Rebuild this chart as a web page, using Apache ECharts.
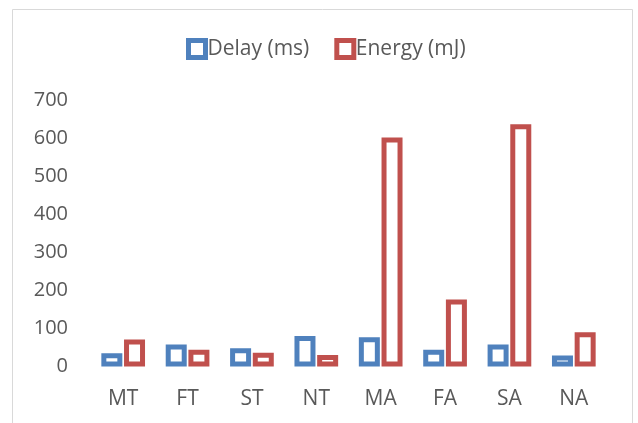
<!DOCTYPE html>
<html><head><meta charset="utf-8">
<script src="https://cdn.jsdelivr.net/npm/echarts@6/dist/echarts.min.js"></script>
<style>html,body{margin:0;padding:0;background:#fff}#c{width:638px;height:423px}</style>
</head><body><div id="c"></div>
<script>
const categories = ['MT','FT','ST','NT','MA','FA','SA','NA'];
const delayValues = [35, 58, 48, 80, 77, 44, 58, 29];
const energyValues = [71, 44, 36, 30, 602, 176, 637, 90];
const yTicks = {min: 0, max: 700, interval: 100};

const BLUE = '#4F81BD', RED = '#C0504D';
const FONT = 'Open Sans';
const chart = echarts.init(document.getElementById('c'), null, {renderer: 'canvas'});
chart.setOption({
  animation: false,
  backgroundColor: '#fff',
  graphic: [{type: 'rect', shape: {x: 12.5, y: 9.5, width: 620, height: 440},
    style: {fill: 'none', stroke: '#d9d9d9', lineWidth: 1}, silent: true}],
  legend: {
    top: 33, left: 181, itemWidth: 17, itemHeight: 17, itemGap: 25,
    textStyle: {fontFamily: FONT, fontSize: 21, color: '#595959', padding: [0, 0, 0, -3]},
    data: [
      {name: 'Delay (ms)', icon: 'rect', itemStyle: {color: '#fff', borderColor: BLUE, borderWidth: 5}},
      {name: 'Energy (mJ)', icon: 'rect', itemStyle: {color: '#fff', borderColor: RED, borderWidth: 5}}
    ]
  },
  grid: {left: 91, right: 32, top: 100.3, bottom: 56.5, containLabel: false},
  xAxis: {
    type: 'category', data: categories,
    axisLine: {show: false}, axisTick: {show: false},
    axisLabel: {fontFamily: FONT, fontSize: 21, color: '#595959', margin: 22}
  },
  yAxis: {
    type: 'value', min: yTicks.min, max: yTicks.max, interval: yTicks.interval,
    splitLine: {show: false}, axisLine: {show: false}, axisTick: {show: false},
    axisLabel: {fontFamily: FONT, fontSize: 20, color: '#595959', margin: 23}
  },
  series: [
    {name: 'Delay (ms)', type: 'bar', data: delayValues, barWidth: 21, barGap: '8%',
      itemStyle: {color: '#fff', borderColor: BLUE, borderWidth: 5}},
    {name: 'Energy (mJ)', type: 'bar', data: energyValues, barWidth: 21, barGap: '8%',
      itemStyle: {color: '#fff', borderColor: RED, borderWidth: 5}}
  ]
});
</script></body></html>
